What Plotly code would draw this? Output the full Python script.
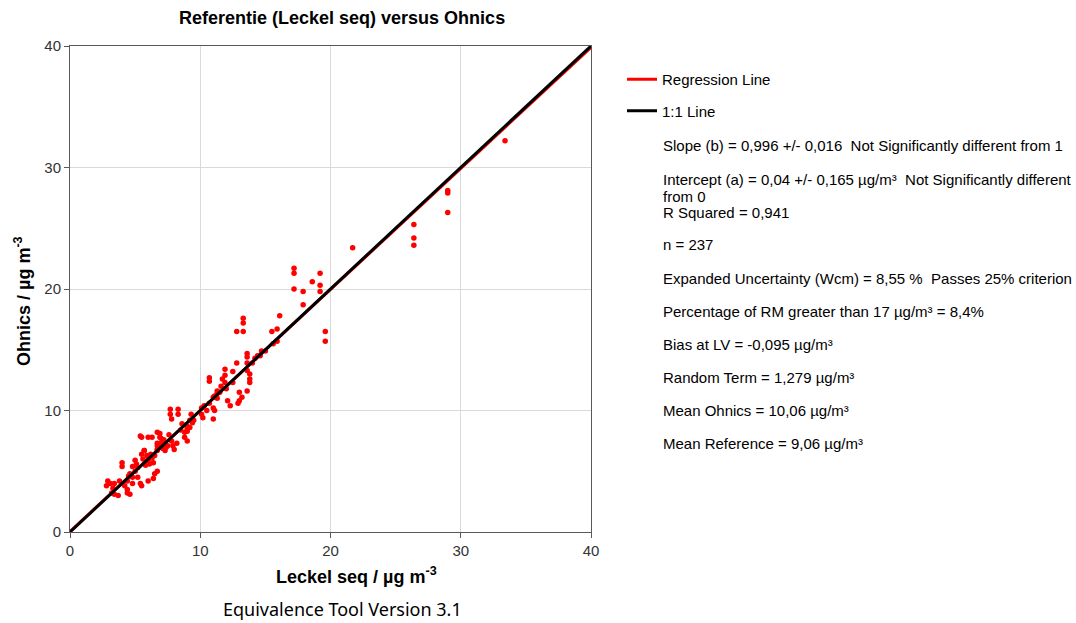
import plotly.graph_objects as go

title_text = "Referentie (Leckel seq) versus Ohnics"
x_title = "Leckel seq / µg m<sup>-3</sup>"
y_title = "Ohnics / µg m<sup>-3</sup>"
footer = "Equivalence Tool Version 3.1"

slope = 0.996
intercept = 0.04
axis_range = [0, 40]
tick_vals = [0, 10, 20, 30, 40]

leckel = [
    33.4, 29.0, 29.0, 29.0, 26.4, 26.4, 26.4, 21.7, 17.2, 17.2, 17.2, 19.2, 19.2, 19.2,
    18.6, 17.9, 17.9, 19.6, 19.6, 16.1, 15.9, 15.5, 15.9, 13.3, 13.3, 13.3, 12.8,
    14.7, 14.6, 13.6, 13.6, 14.2, 14.0, 13.6, 12.8, 12.5, 11.9, 11.9, 13.6, 13.8, 13.8,
    13.8, 11.7, 11.9, 11.6, 10.7, 10.7, 11.3, 11.5, 11.3, 11.0, 11.3, 11.1, 13.0, 13.2,
    13.0, 12.9, 13.6, 12.1, 12.3, 10.7, 10.3, 10.1, 11.0, 11.1, 11.0, 15.0, 14.4, 15.6,
    7.7, 7.7, 7.8, 8.3, 8.3, 10.1, 10.2, 9.2, 9.0, 9.0, 8.8, 9.0, 9.2, 8.8, 9.0,
    5.4, 5.5, 6.0, 6.3, 6.7, 6.9, 7.0, 6.7, 7.1, 6.7, 7.3, 7.8, 7.9, 8.0, 7.5, 8.2,
    5.7, 5.5, 9.3, 6.9, 7.0, 7.1,
    6.7, 6.7, 6.5, 5.7, 5.9, 5.6, 6.0, 6.1, 6.4, 5.0, 5.1, 4.8, 5.2, 4.0, 4.0, 6.7,
    6.5, 6.4, 6.0, 5.2, 5.4, 5.5, 4.6, 4.8, 4.4, 4.8, 4.2, 4.4, 4.4, 4.6, 3.8, 4.0,
    3.4, 3.3, 2.9, 3.1, 2.8, 3.2, 3.4, 3.7,
    4.5, 5.0, 5.8, 6.2, 7.2, 7.6, 8.5, 9.5, 10.5, 12.0, 12.5, 8.6, 9.4, 7.4, 6.3,
]
ohnics = [
    32.2, 28.1, 27.9, 26.3, 25.3, 24.2, 23.6, 23.4, 21.7, 21.3, 20.0, 21.3, 20.3, 19.8,
    20.6, 19.8, 18.7, 16.5, 15.7, 17.8, 16.7, 16.5, 15.7, 17.6, 17.2, 16.5, 16.5,
    14.9, 14.5, 14.7, 14.4, 14.3, 13.9, 13.9, 13.9, 13.2, 13.4, 12.9, 13.3, 13.0, 12.6,
    12.3, 12.6, 12.3, 12.0, 12.7, 12.4, 11.6, 11.5, 11.4, 11.1, 11.0, 11.2, 11.5, 11.1,
    10.8, 10.6, 11.6, 10.8, 10.4, 10.6, 10.4, 10.2, 10.2, 10.0, 9.3, 14.9, 14.5, 15.5,
    10.1, 9.7, 9.3, 10.1, 9.7, 9.7, 9.4, 9.2, 8.7, 8.5, 8.2, 8.3, 8.6, 7.8, 7.5,
    7.9, 7.8, 7.8, 7.8, 8.2, 7.8, 7.3, 7.3, 6.9, 6.8, 6.7, 7.5, 7.1, 6.8, 7.1, 7.3,
    6.7, 6.4, 9.7, 8.1, 7.7, 7.3,
    7.1, 6.7, 6.3, 6.7, 6.3, 6.0, 5.9, 5.6, 5.7, 5.9, 5.6, 5.4, 5.3, 5.7, 5.4, 5.0,
    4.8, 4.4, 4.2, 4.5, 4.0, 3.8, 4.8, 4.5, 4.2, 4.0, 3.8, 3.5, 3.2, 3.1, 4.2, 4.0,
    4.0, 3.6, 4.2, 4.0, 3.8, 3.2, 3.1, 3.0,
    4.6, 5.0, 5.5, 6.4, 7.6, 8.0, 8.4, 9.2, 10.0, 11.8, 12.3, 8.9, 9.0, 7.0, 6.1,
]

stats_lines = [
    "Slope (b) = 0,996 +/- 0,016  Not Significantly different from 1",
    "Intercept (a) = 0,04 +/- 0,165 µg/m³  Not Significantly different",
    "from 0",
    "R Squared = 0,941",
    "n = 237",
    "Expanded Uncertainty (Wcm) = 8,55 %  Passes 25% criterion",
    "Percentage of RM greater than 17 µg/m³ = 8,4%",
    "Bias at LV = -0,095 µg/m³",
    "Random Term = 1,279 µg/m³",
    "Mean Ohnics = 10,06 µg/m³",
    "Mean Reference = 9,06 µg/m³",
]
stats_y_px = [146, 180, 196, 212, 244, 278, 311, 344, 377, 410, 443]

FONT = "Liberation Sans, Arial, sans-serif"
W, H = 1076, 623
L, R, T, B = 70, 485, 46, 91
plot_h = H - T - B
plot_w = W - L - R


def px_x(p):
    return (p - L) / plot_w


def px_y(p):
    return 1 - (p - T) / plot_h


fig = go.Figure()
fig.add_trace(go.Scatter(
    x=leckel, y=ohnics, mode="markers",
    marker=dict(color="#ff0000", size=5.5, line=dict(width=0)),
    showlegend=False, hoverinfo="x+y",
))
line_x = axis_range
fig.add_trace(go.Scatter(
    x=line_x, y=[slope * v + intercept for v in line_x], mode="lines",
    line=dict(color="#ff0000", width=3), name="Regression Line", legendgroup="a",
))
fig.add_trace(go.Scatter(
    x=line_x, y=line_x, mode="lines",
    line=dict(color="#000000", width=3), name="1:1 Line", legendgroup="b",
))

axis_common = dict(
    range=axis_range, tickvals=tick_vals, showgrid=True, gridcolor="#d9d9d9", gridwidth=1,
    showline=True, linecolor="#595959", linewidth=1, mirror=True,
    ticks="outside", ticklen=5, tickcolor="#595959",
    tickfont=dict(family=FONT, size=15, color="#333333"), zeroline=False,
)
fig.update_xaxes(**axis_common)
fig.update_yaxes(**axis_common)

for txt, ypx in zip(stats_lines, stats_y_px):
    fig.add_annotation(
        text=txt, xref="paper", yref="paper",
        x=px_x(661), y=px_y(ypx),
        xanchor="left", yanchor="middle", align="left", showarrow=False,
        font=dict(family=FONT, size=15, color="#000"),
    )

fig.add_annotation(
    text="<b>" + x_title + "</b>", xref="paper", yref="paper",
    x=px_x(356), y=px_y(575), xanchor="center", yanchor="middle",
    showarrow=False, font=dict(family=FONT, size=18, color="#000"),
)
fig.add_annotation(
    text="<b>" + y_title + "</b>", xref="paper", yref="paper",
    x=px_x(22), y=px_y(301), xanchor="center", yanchor="middle", textangle=-90,
    showarrow=False, font=dict(family=FONT, size=18, color="#000"),
)
fig.add_annotation(
    text="<b>" + title_text + "</b>", xref="paper", yref="paper",
    x=px_x(342), y=px_y(18), xanchor="center", yanchor="middle",
    showarrow=False, font=dict(family=FONT, size=18, color="#000"),
)
fig.add_annotation(
    text=footer, xref="paper", yref="paper",
    x=px_x(342), y=px_y(609), xanchor="center", yanchor="middle",
    showarrow=False, font=dict(family="Noto Sans, sans-serif", size=18, color="#000"),
)

fig.update_layout(
    width=W, height=H,
    margin=dict(l=L, r=R, t=T, b=B),
    paper_bgcolor="white", plot_bgcolor="white",
    font=dict(family=FONT),
    showlegend=True,
    legend=dict(
        x=px_x(622), y=px_y(63), xanchor="left", yanchor="top",
        font=dict(family=FONT, size=15, color="#000"), tracegroupgap=9,
        bgcolor="rgba(0,0,0,0)", itemwidth=30,
    ),
)

fig.write_html("out.html")
